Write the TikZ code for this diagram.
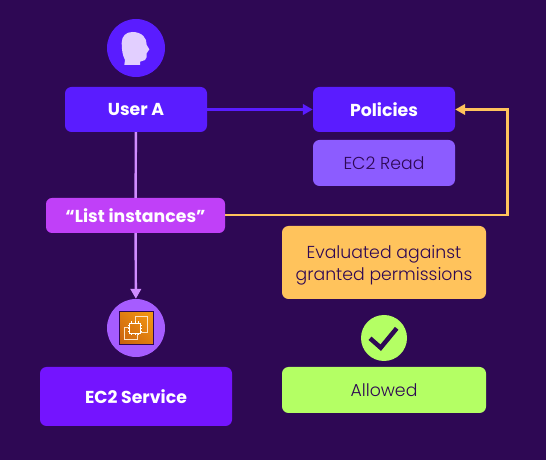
\documentclass[tikz,border=0pt]{standalone}
\usepackage{fontspec}
\setmainfont{Poppins}
\newfontfamily\softfont{Poppins Light}
\usetikzlibrary{arrows.meta,positioning,calc,shadings}
\definecolor{bgdark}{HTML}{2E0854}
\definecolor{indigo}{HTML}{5A1CFF}
\definecolor{softviolet}{HTML}{8C5CFF}
\definecolor{magenta}{HTML}{C040F8}
\definecolor{lilac}{HTML}{D08CFF}
\definecolor{amber}{HTML}{FFC35C}
\definecolor{lime}{HTML}{B4FF64}
\definecolor{royal}{HTML}{7414FF}
\definecolor{circviolet}{HTML}{A65CFF}
\definecolor{headtint}{HTML}{E2CFFF}
\definecolor{awslow}{HTML}{C8600F}
\definecolor{awshigh}{HTML}{F59A10}
\definecolor{awsline}{HTML}{FCE3C4}
\tikzset{
  box/.style={rounded corners=6.5bp, minimum width=142bp, minimum height=45bp, inner sep=0pt, align=center},
  strong/.style={text=white, font=\fontsize{17.3bp}{22bp}\selectfont\bfseries},
  soft/.style={text=bgdark, font=\fontsize{17.3bp}{22bp}\selectfont\softfont},
  badge/.style={circle, minimum size=58bp, inner sep=0pt},
  conn/.style={line width=2.4bp, -{Triangle[length=10bp,width=10.5bp]}},
}
\begin{document}
\begin{tikzpicture}
	\fill[bgdark] (0bp,0bp) rectangle (546bp,460bp);
	\useasboundingbox (0bp,0bp) rectangle (546bp,460bp);

	\node (userbadge) at (136bp,412bp) [badge, fill=indigo] {};
	\node (user) at (136bp,350.5bp) [box, strong, fill=indigo] {User A};
	\node (policies) at (384bp,350.5bp) [box, strong, fill=indigo] {Policies};
	\node (read) at (384bp,297bp) [box, soft, fill=softviolet, minimum height=46bp] {EC2 Read};
	\node (request) at (135.5bp,244.5bp) [box, strong, fill=magenta, minimum width=179bp, minimum height=35bp, rounded corners=6bp] {“List instances”};
	\node (check) at (384bp,197.5bp) [box, soft, fill=amber, minimum width=204bp, minimum height=73bp] {\rule{0pt}{19bp}Evaluated against\\granted permissions};
	\node (ec2badge) at (136bp,132bp) [badge, fill=circviolet] {};
	\node (service) at (136bp,63.5bp) [box, strong, fill=royal, minimum width=192bp, minimum height=59bp] {EC2 Service};
	\node (tickbadge) at (384bp,122bp) [badge, fill=lime, minimum size=46bp] {};
	\node (allowed) at (384bp,70bp) [box, soft, fill=lime, minimum width=204bp, minimum height=46bp] {Allowed};
	\coordinate (corner1) at (507.5bp,350.5bp);
	\coordinate (corner2) at (507.5bp,245bp);

	\draw[conn, indigo] (user) -- (policies);
	\draw[line width=2.4bp, lilac] (user) -- (request);
	\draw[conn, lilac] (request) -- (ec2badge);
	\draw[conn, amber] (request.east |- corner2) -- (corner2) -- (corner1) -- (policies);

	% head
	\fill[headtint] (124.3bp,395bp) -- (140bp,395bp) -- (140bp,398.3bp) -- (145bp,400bp)
		.. controls (147bp,401bp) and (146.7bp,404bp) .. (146.7bp,406.7bp)
		-- (149.3bp,410.7bp) -- (146.7bp,415bp)
		.. controls (147bp,422bp) and (142bp,428bp) .. (132.5bp,428bp)
		.. controls (126bp,428bp) and (121.7bp,424bp) .. (121.7bp,417bp)
		.. controls (121.7bp,410bp) and (122.5bp,405bp) .. (125bp,400bp) -- cycle;

	% ec2 icon
	\begin{scope}[shift={(136bp,132bp)}]
		\shade[lower left=awslow, upper right=awshigh, lower right=awslow!50!awshigh, upper left=awslow!50!awshigh] (-17bp,-16.5bp) rectangle (17bp,16.5bp);
		\draw[bgdark, line width=1bp] (-17bp,-16.5bp) rectangle (17bp,16.5bp);
		\draw[awsline, line width=0.7bp] (-1bp,6bp) -- (-1bp,12bp) -- (11bp,12bp) -- (11bp,-4bp) -- (5bp,-4bp);
		\draw[awsline, line width=0.7bp] (1bp,-6bp) -- (1bp,-11bp) -- (-12bp,-11bp) -- (-12bp,1bp) -- (-7bp,1bp);
		\draw[white, line width=0.9bp] (-6.5bp,-5.5bp) rectangle (4bp,5bp);
		\foreach \tickpos in {-4.5,-1.25,2} {
			\draw[white, line width=0.4bp] (\tickpos bp,5bp) -- (\tickpos bp,6.5bp);
			\draw[white, line width=0.4bp] (\tickpos bp,-5.5bp) -- (\tickpos bp,-7bp);
		}
		\foreach \tickpos in {-3.5,-0.25,3} {
			\draw[white, line width=0.4bp] (-6.5bp,\tickpos bp) -- (-8bp,\tickpos bp);
			\draw[white, line width=0.4bp] (4bp,\tickpos bp) -- (5.5bp,\tickpos bp);
		}
	\end{scope}

	% tick
	\draw[bgdark, line width=4.5bp] (370bp,121.7bp) -- (380.7bp,112.3bp) -- (396.7bp,131.7bp);
\end{tikzpicture}
\end{document}
